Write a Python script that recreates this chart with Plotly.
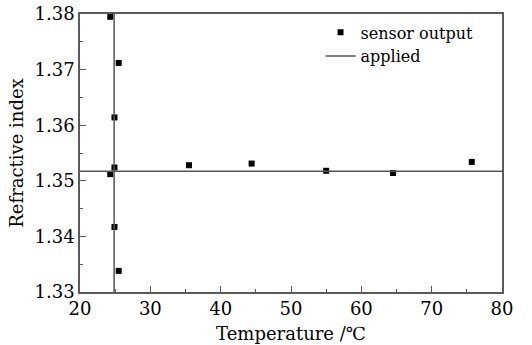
import plotly.graph_objects as go

# Sensor output data (temperature in C, refractive index)
temp = [24.3, 25.5, 24.9, 24.9, 24.3, 24.9, 25.5, 35.5, 44.4, 55.0, 64.5, 75.7]
ri = [1.3795, 1.3712, 1.3614, 1.3524, 1.3512, 1.3417, 1.3338, 1.3528, 1.3531, 1.3518, 1.3514, 1.3534]

# Applied reference: temperature and refractive index
applied_temp = 24.85
applied_ri = 1.3517
x_range = [20, 80]
y_range = [1.33, 1.38]

FONT = "DejaVu Serif"
AX = "#5a5a5a"

fig = go.Figure()
fig.add_trace(go.Scatter(
    x=temp, y=ri, mode="markers", name="sensor output",
    marker=dict(symbol="square", size=6, color="black"),
))
fig.add_trace(go.Scatter(
    x=[x_range[0], x_range[1], None, applied_temp, applied_temp],
    y=[applied_ri, applied_ri, None, y_range[0], y_range[1]],
    mode="lines", name="applied", connectgaps=False,
    line=dict(color="#555555", width=1.5),
))

axis_common = dict(
    showline=True, linecolor=AX, linewidth=1.5, mirror=True,
    ticks="inside", ticklen=6, tickwidth=1, tickcolor=AX,
    showgrid=False, zeroline=False, automargin=False,
    tickfont=dict(family=FONT, size=18, color="black"),
)
fig.update_xaxes(range=x_range, dtick=10, tick0=20,
                 minor=dict(dtick=5, ticks="inside", ticklen=3, tickcolor=AX),
                 title=dict(text="Temperature /℃", font=dict(family=FONT, size=18, color="black"), standoff=9),
                 **axis_common)
fig.update_yaxes(range=y_range, dtick=0.01, tick0=1.33, tickformat=".2f",
                 minor=dict(dtick=0.005, ticks="inside", ticklen=3, tickcolor=AX),
                 title=dict(text="Refractive index", font=dict(family=FONT, size=18, color="black"), standoff=6),
                 **axis_common)

fig.update_layout(
    width=532, height=345,
    margin=dict(l=80, r=30, t=14, b=53, autoexpand=False),
    plot_bgcolor="white", paper_bgcolor="white",
    font=dict(family=FONT, size=16, color="black"),
    legend=dict(x=0.57, y=0.995, xanchor="left", yanchor="top",
                bgcolor="rgba(0,0,0,0)", font=dict(family=FONT, size=16),
                tracegroupgap=0, itemwidth=30),
    showlegend=True,
)

fig.write_html("out.html")
